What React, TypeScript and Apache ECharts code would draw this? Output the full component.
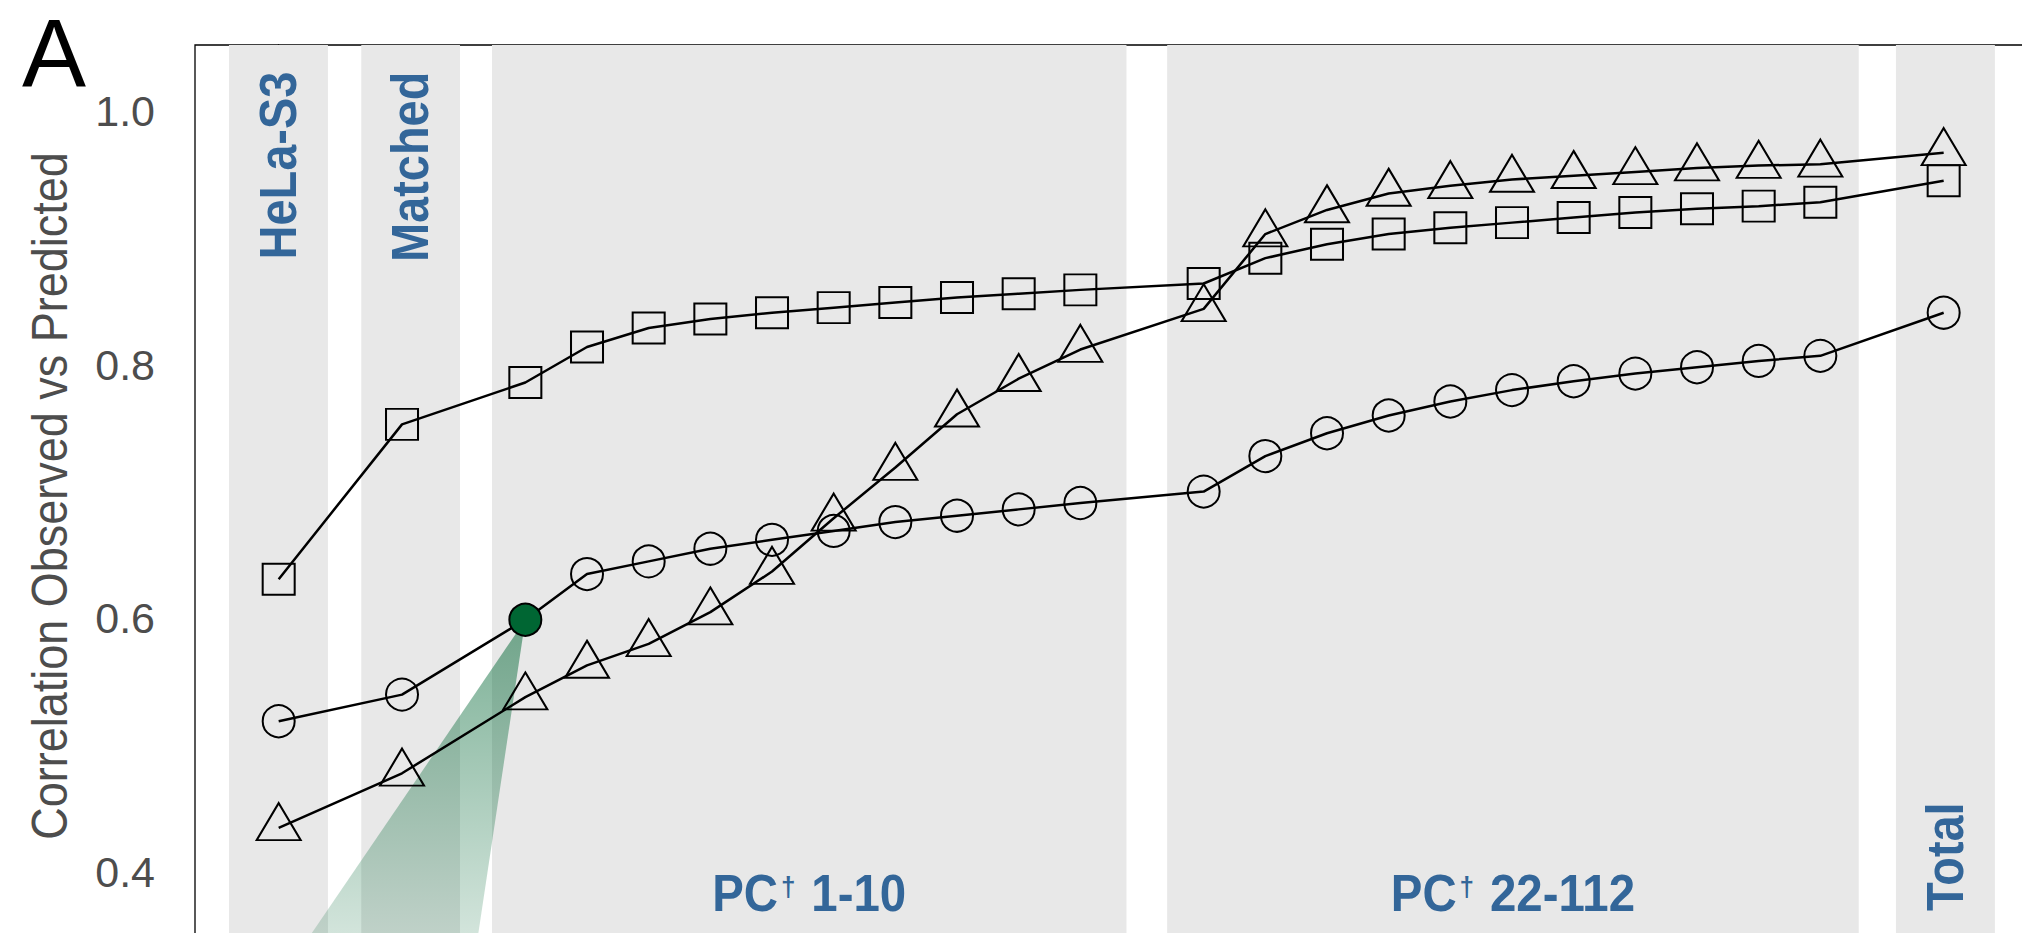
import React, { useEffect, useRef } from "react";
import * as echarts from "echarts";

// ---- data ----
// slot positions on the x axis: HeLa-S3, Matched, PC 1-10, PC 22-112, Total
const xPositions = [0, 2, 4, 5, 6, 7, 8, 9, 10, 11, 12, 13, 15, 16, 17, 18, 19, 20, 21, 22, 23, 24, 25, 27];

const squareValues = [
  0.631, 0.753,
  0.786, 0.814, 0.829, 0.836, 0.841, 0.845, 0.849, 0.853, 0.856, 0.859,
  0.864, 0.884, 0.895, 0.903, 0.908, 0.912, 0.916, 0.92, 0.923, 0.925, 0.928,
  0.945,
];
const circleValues = [
  0.519, 0.54,
  0.599, 0.635, 0.645, 0.655, 0.662, 0.669, 0.676, 0.681, 0.686, 0.691,
  0.7, 0.728, 0.746, 0.76, 0.771, 0.78, 0.787, 0.793, 0.798, 0.803, 0.807,
  0.841,
];
const triangleValues = [
  0.435, 0.478,
  0.538, 0.563, 0.58, 0.605, 0.637, 0.679, 0.719, 0.761, 0.789, 0.812,
  0.844, 0.903, 0.922, 0.935, 0.941, 0.946, 0.949, 0.952, 0.955, 0.957, 0.958,
  0.967,
];
const highlightIndex = 2; // the filled green circle

const bandLabels = ["HeLa-S3", "Matched", "PC† 1-10", "PC† 22-112", "Total"];
const bandStart = [-0.806, 1.339, 3.459, 14.408, 26.226];
const bandEnd = [0.799, 2.94, 13.748, 25.623, 27.831];

const yTicks = [0.4, 0.6, 0.8, 1.0];
const yAxisTitle = "Correlation Observed vs Predicted";
const panelLetter = "A";

// wedge base (data coords) below the highlighted point
const wedgeBase = [
  [0.368, 0.34],
  [3.201, 0.34],
];

export default function App() {
  const ref = useRef<HTMLDivElement>(null);

  useEffect(() => {
    document.body.style.margin = "0";
    const chart = echarts.init(ref.current as HTMLDivElement, undefined, { renderer: "svg" });
    const FONT = "'Liberation Sans', Arial, Helvetica, sans-serif";
    const Y_MIN = 0.2;
    const Y_MAX = 1.052;
    const X_MIN = -1.357;
    const X_MAX = 29;
    const BLUE = "#336699";

    const pts = (vals: number[]) => vals.map((v, i) => [xPositions[i], v]);

    const baseItem = { color: "rgba(0,0,0,0)", borderColor: "#000", borderWidth: 2 };

    const lineSeries = (name: string, symbol: string, size: number[], data: any[], offset: number[]) => ({
      type: "line",
      name,
      data,
      symbol,
      symbolSize: size,
      symbolOffset: offset,
      z: 3,
      silent: true,
      lineStyle: { color: "#000", width: 2.5 },
      itemStyle: baseItem,
      emphasis: { disabled: true },
    });

    const circleData: any[] = pts(circleValues).map((p, i) =>
      i === highlightIndex
        ? { value: p, itemStyle: { color: "#006633", borderColor: "#000", borderWidth: 2 } }
        : p
    );

    const option: any = {
      animation: false,
      textStyle: { fontFamily: FONT },
      grid: {
        show: true,
        left: 195,
        top: 45,
        right: -45,
        bottom: -193,
        outerBoundsMode: "none",
        containLabel: false,
        borderColor: "#000",
        borderWidth: 1.3,
        backgroundColor: "rgba(0,0,0,0)",
      },
      xAxis: {
        type: "value",
        min: X_MIN,
        max: X_MAX,
        show: false,
      },
      yAxis: {
        type: "value",
        min: Y_MIN,
        max: Y_MAX,
        axisLine: { show: true, lineStyle: { color: "#000", width: 1.3 } },
        axisTick: {
          show: true,
          length: 13,
          inside: false,
          customValues: yTicks,
          lineStyle: { color: "#222", width: 1.5 },
        },
        axisLabel: {
          customValues: yTicks,
          formatter: (v: number) => v.toFixed(1),
          fontSize: 43,
          color: "#4d4d4d",
          margin: 40,
          fontFamily: FONT,
        },
        splitLine: { show: false },
      },
      series: [
        {
          type: "custom",
          name: "bands",
          z: 1,
          silent: true,
          data: bandStart.map((s, i) => [s, bandEnd[i]]),
          renderItem: (_params: any, api: any) => {
            const a = api.coord([api.value(0), Y_MAX]);
            const b = api.coord([api.value(1), Y_MIN]);
            return {
              type: "rect",
              shape: { x: a[0], y: a[1], width: b[0] - a[0], height: b[1] - a[1] },
              style: { fill: "#e8e8e8" },
            };
          },
        },
        {
          type: "custom",
          name: "wedge",
          z: 2,
          silent: true,
          data: [[xPositions[highlightIndex], circleValues[highlightIndex]]],
          renderItem: (_params: any, api: any) => {
            const apex = api.coord([api.value(0), api.value(1)]);
            const l = api.coord(wedgeBase[0]);
            const r = api.coord(wedgeBase[1]);
            return {
              type: "polygon",
              shape: { points: [apex, l, r] },
              style: {
                fill: new echarts.graphic.LinearGradient(0, 0, 0, 1, [
                  { offset: 0, color: "rgba(0,102,51,0.52)" },
                  { offset: 1, color: "rgba(0,102,51,0.16)" },
                ]),
              },
            };
          },
        },
        lineSeries("squares", "rect", [32, 31], pts(squareValues), [0, 0]),
        lineSeries("circles", "circle", [32, 32], circleData, [0, 0]),
        lineSeries("triangles", "triangle", [44, 37], pts(triangleValues), [0, -6.2]),
      ],
    };

    chart.setOption(option);

    const px = (x: number, y: number) => chart.convertToPixel({ gridIndex: 0 }, [x, y]) as number[];
    const centers = bandStart.map((s, i) => (s + bandEnd[i]) / 2);
    const topY = px(0, 1.031)[1];
    const capMidY = px(0, 0.3838)[1];
    const baseY = px(0, 0.3695)[1];

    const labelStyleBase = {
      fill: BLUE,
      fontFamily: FONT,
      fontWeight: "bold",
      fontSize: 51,
    };

    const elements: any[] = [];
    bandLabels.forEach((label, i) => {
      const cx = px(centers[i], 0.5)[0];
      if (i < 2) {
        elements.push({
          type: "text",
          x: cx,
          y: topY,
          rotation: Math.PI / 2,
          scaleX: 0.92,
          z: 100,
          silent: true,
          style: { ...labelStyleBase, text: label, align: "right", verticalAlign: "middle" },
        });
      } else if (i === bandLabels.length - 1) {
        elements.push({
          type: "text",
          x: cx,
          y: baseY,
          rotation: Math.PI / 2,
          scaleX: 0.92,
          z: 100,
          silent: true,
          style: { ...labelStyleBase, text: label, align: "left", verticalAlign: "middle" },
        });
      } else {
        const parts = label.split("†");
        elements.push({
          type: "text",
          x: cx,
          y: capMidY,
          scaleX: 0.93,
          z: 100,
          silent: true,
          style: {
            ...labelStyleBase,
            text: `{a|${parts[0]}}{d|†}{a|${parts[1]}}`,
            align: "center",
            verticalAlign: "middle",
            rich: {
              a: { fill: BLUE, fontFamily: FONT, fontWeight: "bold", fontSize: 51, verticalAlign: "middle" },
              d: {
                fill: BLUE,
                fontFamily: FONT,
                fontWeight: "bold",
                fontSize: 28,
                verticalAlign: "middle",
                padding: [0, 3, 12, 3],
              },
            },
          },
        });
      }
    });

    elements.push({
      type: "text",
      x: 49.5,
      y: 496,
      rotation: Math.PI / 2,
      scaleX: 0.9,
      z: 100,
      silent: true,
      style: {
        text: yAxisTitle,
        fill: "#4d4d4d",
        fontFamily: FONT,
        fontSize: 50,
        align: "center",
        verticalAlign: "middle",
      },
    });
    elements.push({
      type: "text",
      x: 54,
      y: 52,
      z: 100,
      silent: true,
      style: {
        text: panelLetter,
        fill: "#000",
        fontFamily: FONT,
        fontSize: 96,
        lineHeight: 96,
        align: "center",
        verticalAlign: "middle",
      },
    });

    chart.setOption({ graphic: { elements } });

    return () => {
      chart.dispose();
    };
  }, []);

  return (
    <div
      ref={ref}
      style={{ position: "fixed", left: 0, top: 0, width: 2022, height: 933, background: "#fff" }}
    />
  );
}
